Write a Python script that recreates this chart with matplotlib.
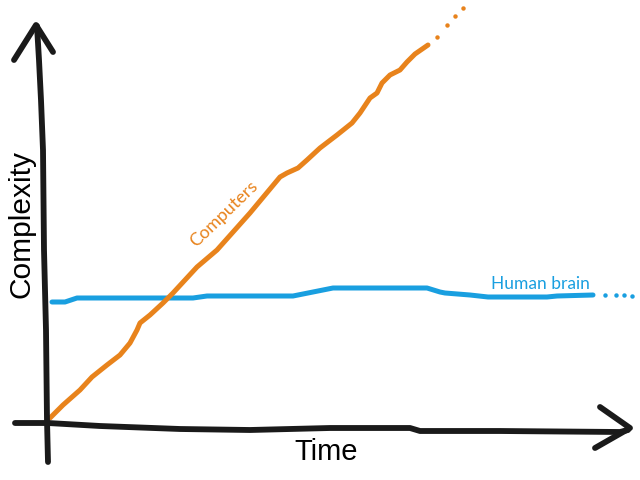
import matplotlib
matplotlib.use("Agg")
import matplotlib.pyplot as plt

# hand-drawn traces, in picture coordinates (x right, y down)
vert_x = [48, 47, 46, 44, 43, 41, 39, 37]
vert_y = [462, 420, 330, 250, 150, 100, 60, 26]
vhead_x = [14, 36, 53]
vhead_y = [60, 25, 52]

horiz_x = [15, 48, 100, 180, 250, 330, 410, 420, 500, 620, 628]
horiz_y = [423, 423, 426, 429, 430, 428, 428, 431, 431, 432, 430]
hhead_x = [600, 630, 595]
hhead_y = [407, 428, 448]

comp_x = [50, 63, 80, 92, 107, 120, 130, 137, 140, 150, 163, 173, 185, 197, 217,
          250, 280, 287, 298, 307, 320, 337, 352, 360, 370, 377, 382, 390, 400,
          407, 415, 428]
comp_y = [418, 405, 390, 377, 365, 355, 343, 330, 323, 315, 303, 293, 280, 267, 250,
          213, 177, 173, 168, 160, 148, 135, 123, 113, 98, 93, 83, 75, 70,
          62, 54, 45]
comp_dots_x = [437, 447, 455, 463]
comp_dots_y = [37, 25, 16, 8]

brain_x = [52, 65, 77, 193, 207, 293, 313, 333, 427, 440, 445, 470, 488, 547, 557, 593]
brain_y = [302, 302, 298, 298, 296, 296, 292, 288, 288, 292, 293, 295, 297, 297, 296, 295]
brain_dots_x = [605, 616, 624, 632]
brain_dots_y = [295, 295, 295, 296]

black = "#1a1a1a"
orange = "#e8831c"
blue = "#199fe0"

fig = plt.figure(figsize=(6.4, 4.8), dpi=100)
ax = fig.add_axes([0, 0, 1, 1])
ax.set_xlim(0, 640)
ax.set_ylim(480, 0)
ax.axis("off")

ax.plot(brain_x, brain_y, color=blue, lw=3.6, solid_capstyle="round", solid_joinstyle="round")
ax.plot(brain_dots_x, brain_dots_y, "o", color=blue, ms=3.2, mew=0)
ax.plot(comp_x, comp_y, color=orange, lw=3.6, solid_capstyle="round", solid_joinstyle="round")
ax.plot(comp_dots_x, comp_dots_y, "o", color=orange, ms=3.2, mew=0)

for xs, ys in [(vert_x, vert_y), (vhead_x, vhead_y), (horiz_x, horiz_y), (hhead_x, hhead_y)]:
    ax.plot(xs, ys, color=black, lw=4.2, solid_capstyle="round", solid_joinstyle="round")

ax.text(326, 452, "Time", fontsize=21, family="Liberation Sans", color="black",
        ha="center", va="center")
ax.text(22, 224, "Complexity", fontsize=21.5, family="Liberation Sans", color="black",
        ha="center", va="center", rotation=90)
ax.text(224, 214, "Computers", fontsize=13, family="Lato", color=orange,
        ha="center", va="center", rotation=44)
ax.text(540, 284, "Human brain", fontsize=12.5, family="Lato", color=blue,
        ha="center", va="center")

fig.savefig("out.png", dpi=100)
